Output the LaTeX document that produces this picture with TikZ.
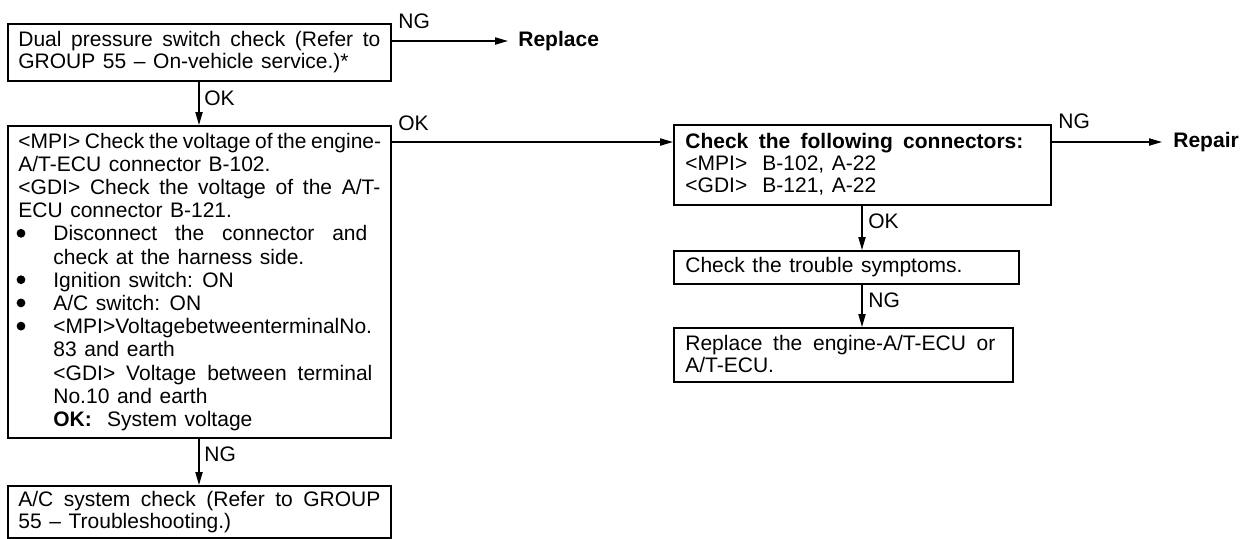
\documentclass[tikz,border=0pt]{standalone}
\usepackage{fontspec}
\setmainfont{Liberation Sans}[WordSpace=1.3]
\usetikzlibrary{arrows.meta,calc}
\newcommand\fs{\fontsize{10.5}{11.2}\selectfont}
\newcommand\fsb{\fontsize{10.5}{11.6}\selectfont}
\newcommand\tight{\spaceskip=0.22em plus 3em\relax}
\newcommand\jl[1]{\makebox[\linewidth][s]{\tight #1}}
\newcommand\js[2]{\makebox[#1][s]{\tight #2}}
\newcommand\ind{\hspace*{17.5pt}}
\begin{document}
\begin{tikzpicture}[x=0.5pt,y=-0.5pt,
  box/.style={draw, line width=0.75pt, inner sep=0pt, anchor=north west},
  txt/.style={anchor=base west, inner sep=0pt, font=\fs},
  lab/.style={anchor=base west, inner sep=0pt, font=\fs},
  arr/.style={line width=0.75pt, -{Triangle[length=6.5pt,width=3.6pt]}},
  dot/.style={fill=black},
]
\useasboundingbox (0,0) rectangle (1244,538);
% boxes
\node[box, minimum width=191.5pt, minimum height=28.5pt] (b1) at (7,23) {};
\node[box, minimum width=191.5pt, minimum height=156pt] (b2) at (7,125) {};
\node[box, minimum width=191.5pt, minimum height=26pt] (b3) at (7,485) {};
\node[box, minimum width=188.5pt, minimum height=40pt] (b4) at (673,124) {};
\node[box, minimum width=172.5pt, minimum height=16.5pt] (b5) at (673,250) {};
\node[box, minimum width=169.5pt, minimum height=27pt] (b6) at (673,327) {};
% texts
\node[txt] (b1t) at (18,46) {\parbox[t]{181pt}{\fs\jl{Dual pressure switch check (Refer to}\\GROUP 55 – On-vehicle service.)*}};
\node[txt] (b2t) at (18,148) {\parbox[t]{181pt}{\fsb
\jl{<MPI> Check the voltage of the engine-}\\
A/T-ECU connector B-102.\\
\jl{<GDI> Check the voltage of the A/T-}\\
ECU connector B-121.\\
\ind\js{157pt}{Disconnect the connector and}\\
\ind check at the harness side.\\
\ind Ignition switch: ON\\
\ind A/C switch: ON\\
\ind <MPI>VoltagebetweenterminalNo.\\
\ind 83 and earth\\
\ind\js{159.5pt}{<GDI> Voltage between terminal}\\
\ind No.10 and earth\\
\ind\textbf{OK:}\ \ System voltage}};
% bullets
\foreach \yy in {240.8,287.2,310.4,333.6} \fill[dot] (21,\yy-7.5) circle (2.2pt);
\node[txt] (b3t) at (18,506) {\parbox[t]{181pt}{\fs\jl{A/C system check (Refer to GROUP}\\55 – Troubleshooting.)}};
\node[txt] (b4t) at (685,148) {\parbox[t]{180pt}{\fs\js{169pt}{\bfseries Check the following connectors:}\\<MPI>\ \ B-102, A-22\\<GDI>\ \ B-121, A-22}};
\node[txt] (b5t) at (685,272) {Check the trouble symptoms.};
\node[txt] (b6t) at (685,350) {\parbox[t]{165pt}{\fs\js{155pt}{Replace the engine-A/T-ECU or}\\A/T-ECU.}};
% end labels
\node[anchor=west, inner sep=0pt, font=\fs\bfseries] (rep) at (518,41) {Replace};
\node[anchor=west, inner sep=0pt, font=\fs\bfseries] (rpr) at (1173,142) {Repair};
% connectors
\draw[arr] (b1.east |- rep.west) -- ([xshift=-5pt]rep.west);
\draw[arr] (b4.east |- rpr.west) -- ([xshift=-5.5pt]rpr.west);
\draw[arr] ($(b2.north east)+(0,17)$) -- ($(b4.north west)+(0,18)$);
\draw[arr] ($(b1.south west)+(192,0)$) -- ($(b2.north west)+(192,0)$);
\draw[arr] ($(b2.south west)+(192,0)$) -- ($(b3.north west)+(192,0)$);
\draw[arr] ($(b4.south west)+(189,0)$) -- ($(b5.north west)+(189,0)$);
\draw[arr] ($(b5.south west)+(189,0)$) -- ($(b6.north west)+(189,0)$);
% connector labels
\node[lab] (l1) at (398,28) {NG};
\node[lab] (l2) at (204,105) {OK};
\node[lab] (l3) at (398,130) {OK};
\node[lab] (l4) at (204,461) {NG};
\node[lab] (l5) at (1058,128) {NG};
\node[lab] (l6) at (868,228) {OK};
\node[lab] (l7) at (868,307) {NG};
\end{tikzpicture}
\end{document}
